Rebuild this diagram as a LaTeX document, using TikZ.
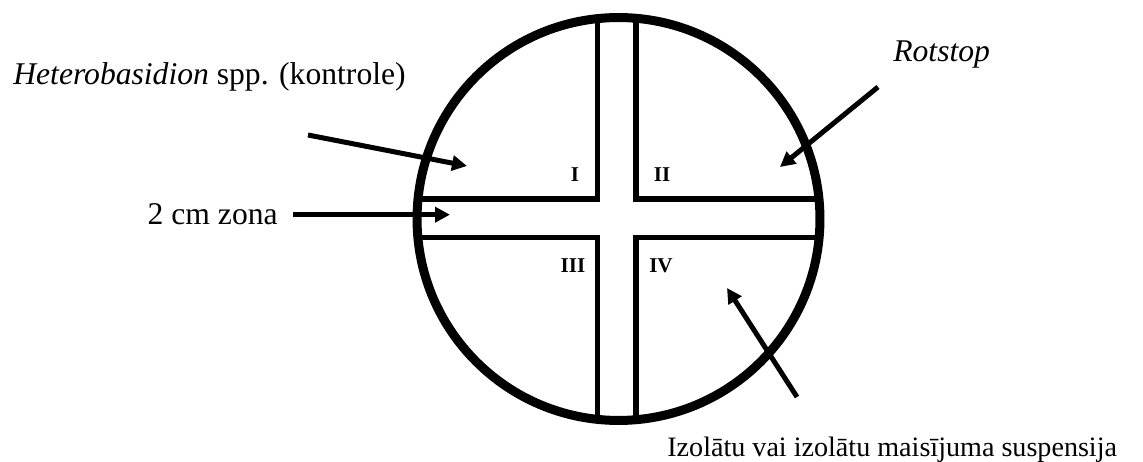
\documentclass[tikz,border=0pt]{standalone}
\usepackage{fontspec}
\setmainfont{Liberation Serif}
\usetikzlibrary{arrows.meta}
\begin{document}
\begin{tikzpicture}[x=0.02cm,y=-0.02cm,
  arr/.style={line width=0.1cm,-{Triangle[length=0.3cm,width=0.3cm]}},
  band/.style={line width=0.11cm},
  lbl/.style={inner sep=0pt,font=\fontsize{18}{20}\selectfont},
  num/.style={font=\fontsize{12}{14}\selectfont\bfseries}]
  \useasboundingbox (0,0) rectangle (1143,462);
  \begin{scope}
    \clip (618.5,219) circle (4.03cm);
    \draw[band] (597.5,0) -- (597.5,199) -- (400,199);
    \draw[band] (636,0) -- (636,199) -- (840,199);
    \draw[band] (597.5,462) -- (597.5,237.5) -- (400,237.5);
    \draw[band] (636,462) -- (636,237.5) -- (840,237.5);
  \end{scope}
  \draw[line width=0.18cm] (618.5,219) circle (4.03cm);
  \node[num] (q1) at (575,175) {I};
  \node[num] (q2) at (662,175) {II};
  \node[num] (q3) at (573,266) {III};
  \node[num] (q4) at (661,266) {IV};
  \node[lbl,anchor=base west] (kontrole) at (13,85) {\textit{Heterobasidion} spp. (kontrole)};
  \node[lbl,anchor=base east,inner xsep=0.3cm] (zona) at (293,225) {2 cm zona};
  \node[lbl,anchor=base west] (rotstop) at (893,62) {\textit{Rotstop}};
  \node[lbl,anchor=base west,font=\fontsize{16}{18}\selectfont] (izolati) at (667,457) {Izolātu vai izolātu maisījuma suspensija};
  \coordinate (k0) at (308,135);
  \coordinate (k1) at (467,166);
  \coordinate (z1) at (450,217);
  \coordinate (r0) at (878,87);
  \coordinate (r1) at (780,167);
  \coordinate (i0) at (797,397);
  \coordinate (i1) at (727,288);
  \draw[arr] (k0) -- (k1);
  \draw[arr] (zona.east) -- (zona.east -| z1);
  \draw[arr] (r0) -- (r1);
  \draw[arr] (i0) -- (i1);
\end{tikzpicture}
\end{document}
